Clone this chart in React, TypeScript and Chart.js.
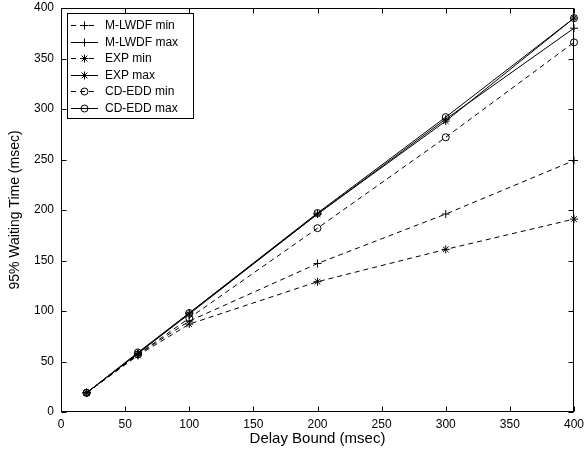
import React, { useEffect, useRef } from "react";
import { Chart, registerables } from "chart.js";

Chart.register(...registerables);

const delayBounds = [20, 60, 100, 200, 300, 400];
const mlwdfMin = [19, 57, 90, 147, 196, 249];
const mlwdfMax = [19, 58, 98, 196, 290, 380];
const expMin = [19, 56, 87, 129, 161, 191];
const expMax = [19, 58, 97, 196, 288, 390];
const cdeddMin = [19, 57, 93, 182, 272, 366];
const cdeddMax = [19, 59, 98, 197, 292, 390];

const seriesNames = ["M-LWDF min", "M-LWDF max", "EXP min", "EXP max", "CD-EDD min", "CD-EDD max"];
const seriesValues = [mlwdfMin, mlwdfMax, expMin, expMax, cdeddMin, cdeddMax];
const seriesMarkers = ["cross", "cross", "star", "star", "circle", "circle"];
const seriesDashed = [true, false, true, false, true, false];

const axisTicks = [0, 50, 100, 150, 200, 250, 300, 350, 400];

const FONT = "'Liberation Sans', Arial, Helvetica, sans-serif";
const DASH = [5, 4];

function drawMarker(ctx: CanvasRenderingContext2D, style: string, x: number, y: number, r: number) {
  ctx.beginPath();
  if (style === "cross" || style === "star") {
    ctx.moveTo(x - r, y);
    ctx.lineTo(x + r, y);
    ctx.moveTo(x, y - r);
    ctx.lineTo(x, y + r);
  }
  if (style === "star") {
    const d = r * 0.72;
    ctx.moveTo(x - d, y - d);
    ctx.lineTo(x + d, y + d);
    ctx.moveTo(x - d, y + d);
    ctx.lineTo(x + d, y - d);
  }
  if (style === "circle") {
    ctx.arc(x, y, r - 0.5, 0, Math.PI * 2);
  }
  ctx.stroke();
}

const frameTicksPlugin = {
  id: "frameTicks",
  afterDatasetsDraw(chart: any) {
    const { ctx, chartArea, scales } = chart;
    const L = Math.round(chartArea.left) + 0.5;
    const R = Math.round(chartArea.right) - 0.5;
    const T = Math.round(chartArea.top) + 0.5;
    const B = Math.round(chartArea.bottom) - 0.5;
    ctx.save();
    ctx.strokeStyle = "#000";
    ctx.lineWidth = 1;
    ctx.setLineDash([]);
    ctx.strokeRect(L, T, R - L, B - T);
    const len = 5;
    ctx.beginPath();
    for (const t of scales.x.ticks) {
      const px = Math.round(scales.x.getPixelForValue(t.value)) + 0.5;
      ctx.moveTo(px, B);
      ctx.lineTo(px, B - len);
      ctx.moveTo(px, T);
      ctx.lineTo(px, T + len);
    }
    for (const t of scales.y.ticks) {
      const py = Math.round(scales.y.getPixelForValue(t.value)) + 0.5;
      ctx.moveTo(L, py);
      ctx.lineTo(L + len, py);
      ctx.moveTo(R, py);
      ctx.lineTo(R - len, py);
    }
    ctx.stroke();
    ctx.restore();
  },
};

const insideLegendPlugin = {
  id: "insideLegend",
  afterDraw(chart: any) {
    const { ctx } = chart;
    const bx = 67.5, by = 13.5, bw = 126, bh = 105;
    ctx.save();
    ctx.fillStyle = "#fff";
    ctx.fillRect(bx, by, bw, bh);
    ctx.strokeStyle = "#000";
    ctx.lineWidth = 1;
    ctx.strokeRect(bx, by, bw, bh);
    ctx.font = "12px " + FONT;
    ctx.textBaseline = "middle";
    ctx.textAlign = "left";
    seriesNames.forEach((name, i) => {
      const y = Math.round(25 + i * 16.6) + 0.5;
      ctx.strokeStyle = "#000";
      ctx.setLineDash(seriesDashed[i] ? DASH : []);
      ctx.beginPath();
      ctx.moveTo(71, y);
      ctx.lineTo(98, y);
      ctx.stroke();
      ctx.setLineDash([]);
      drawMarker(ctx, seriesMarkers[i], 84.5, y, 4);
      ctx.fillStyle = "#000";
      ctx.fillText(name, 105, y + 0.5);
    });
    ctx.restore();
  },
};

export default function App() {
  const canvasRef = useRef<HTMLCanvasElement | null>(null);

  useEffect(() => {
    const canvas = canvasRef.current;
    if (!canvas) return;
    const datasets = seriesNames.map((name, i) => ({
      label: name,
      data: delayBounds.map((x, j) => ({ x, y: seriesValues[i][j] })),
      borderColor: "#000",
      backgroundColor: "rgba(0,0,0,0)",
      borderWidth: 1,
      borderDash: seriesDashed[i] ? DASH : [],
      pointStyle: seriesMarkers[i] === "circle" ? "circle" : seriesMarkers[i] === "cross" ? "cross" : "star",
      pointRadius: seriesMarkers[i] === "circle" ? 3.5 : 4,
      pointBorderWidth: 1,
      pointBorderColor: "#000",
      pointBackgroundColor: "rgba(0,0,0,0)",
      tension: 0,
      fill: false,
      clip: false,
    }));
    const chart = new Chart(canvas, {
      type: "line",
      data: { datasets },
      plugins: [frameTicksPlugin, insideLegendPlugin],
      options: {
        animation: false,
        responsive: false,
        devicePixelRatio: 1,
        layout: { padding: { left: 0, right: 10, top: 8, bottom: 0 } },
        plugins: { legend: { display: false }, tooltip: { enabled: false } },
        scales: {
          x: {
            type: "linear",
            min: 0,
            max: 400,
            afterBuildTicks: (scale: any) => {
              scale.ticks = axisTicks.map((v) => ({ value: v }));
            },
            afterFit: (scale: any) => {
              scale.height = 47;
              scale.paddingLeft = 0;
              scale.paddingRight = 0;
            },
            grid: { display: true, drawOnChartArea: false, drawTicks: false },
            border: { display: false },
            ticks: { color: "#000", font: { family: FONT, size: 12 }, padding: 5, maxRotation: 0, autoSkip: false },
            title: {
              display: true,
              text: "Delay Bound (msec)",
              color: "#000",
              font: { family: FONT, size: 15 },
              padding: { top: 0, bottom: 11 },
            },
          },
          y: {
            type: "linear",
            min: 0,
            max: 400,
            afterBuildTicks: (scale: any) => {
              scale.ticks = axisTicks.map((v) => ({ value: v }));
            },
            afterFit: (scale: any) => {
              scale.width = 61;
              scale.paddingTop = 0;
              scale.paddingBottom = 0;
            },
            grid: { display: true, drawOnChartArea: false, drawTicks: false },
            border: { display: false },
            ticks: { color: "#000", font: { family: FONT, size: 12 }, padding: 7, autoSkip: false },
            title: {
              display: true,
              text: "95% Waiting Time (msec)",
              color: "#000",
              font: { family: FONT, size: 14 },
              padding: { top: 7, bottom: 0 },
            },
          },
        },
      },
    });
    return () => chart.destroy();
  }, []);

  return (
    <div style={{ position: "absolute", left: 0, top: 0, width: 584, height: 459, background: "#fff" }}>
      <canvas ref={canvasRef} width={584} height={459} style={{ width: 584, height: 459, display: "block" }} />
    </div>
  );
}
